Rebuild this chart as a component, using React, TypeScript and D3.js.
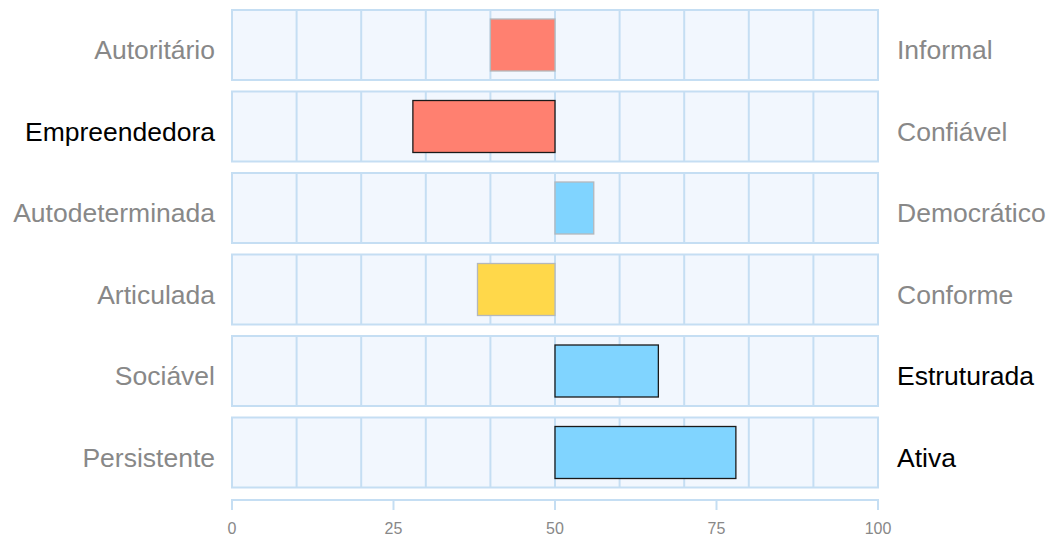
import React from "react";
import * as d3 from "d3";

const leftLabels = ["Autoritário", "Empreendedora", "Autodeterminada", "Articulada", "Sociável", "Persistente"];
const rightLabels = ["Informal", "Confiável", "Democrático", "Conforme", "Estruturada", "Ativa"];
const values = [40, 28, 56, 38, 66, 78];
const barColors = ["#FF8070", "#FF8070", "#80D4FF", "#FFD84A", "#80D4FF", "#80D4FF"];
const leftHighlighted = [false, true, false, false, false, false];
const rightHighlighted = [false, false, false, false, true, true];
const xTicks = [0, 25, 50, 75, 100];
const gridValues = [10, 20, 30, 40, 50, 60, 70, 80, 90];

const W = 1047;
const H = 536;
const left = 232;
const right = 878;
const top = 10;
const step = 81.5;
const band = 70;

export default function App() {
  const n = leftLabels.length;
  const x = d3.scaleLinear().domain([0, 100]).range([left, right]);
  const y = d3
    .scaleBand<number>()
    .domain(d3.range(n))
    .range([top, top + (n - 1) * step + band])
    .paddingInner((step - band) / step)
    .paddingOuter(0);
  const bw = y.bandwidth();
  const gridColor = "#C5DEF3";
  const font = "'Liberation Sans', Arial, Helvetica, sans-serif";
  const axisY = 500;
  return (
    <svg width={W} height={H} style={{ position: "absolute", left: 0, top: 0 }}>
      {leftLabels.map((lab, i) => {
        const y0 = y(i)!;
        const lo = Math.min(50, values[i]);
        const hi = Math.max(50, values[i]);
        const stroke = leftHighlighted[i] || rightHighlighted[i] ? "#1a1a1a" : "#B4B8BC";
        return (
          <g key={i}>
            <rect x={x(0)} y={y0} width={x(100) - x(0)} height={bw} fill="#F2F7FE" stroke={gridColor} strokeWidth={2} />
            {gridValues.map((g) => (
              <line key={g} x1={x(g)} x2={x(g)} y1={y0} y2={y0 + bw} stroke={gridColor} strokeWidth={2} />
            ))}
            <rect
              x={x(lo)}
              y={y0 + 9}
              width={x(hi) - x(lo)}
              height={bw - 18}
              fill={barColors[i]}
              stroke={stroke}
              strokeWidth={1.3}
            />
            <text x={215} y={y0 + bw / 2 + 5} dy="0.35em" textAnchor="end" fontFamily={font} fontSize={26.5} fill={leftHighlighted[i] ? "#000" : "#888"}>
              {lab}
            </text>
            <text x={897} y={y0 + bw / 2 + 5} dy="0.35em" textAnchor="start" fontFamily={font} fontSize={26.5} fill={rightHighlighted[i] ? "#000" : "#888"}>
              {rightLabels[i]}
            </text>
          </g>
        );
      })}
      <line x1={x(0)} x2={x(100)} y1={axisY} y2={axisY} stroke={gridColor} strokeWidth={2} />
      {xTicks.map((t) => (
        <g key={t}>
          <line x1={x(t)} x2={x(t)} y1={axisY - 1} y2={axisY + 10} stroke={gridColor} strokeWidth={2} />
          <text x={x(t)} y={528} dy="0.35em" textAnchor="middle" fontFamily={font} fontSize={16} fill="#888">
            {t}
          </text>
        </g>
      ))}
    </svg>
  );
}
